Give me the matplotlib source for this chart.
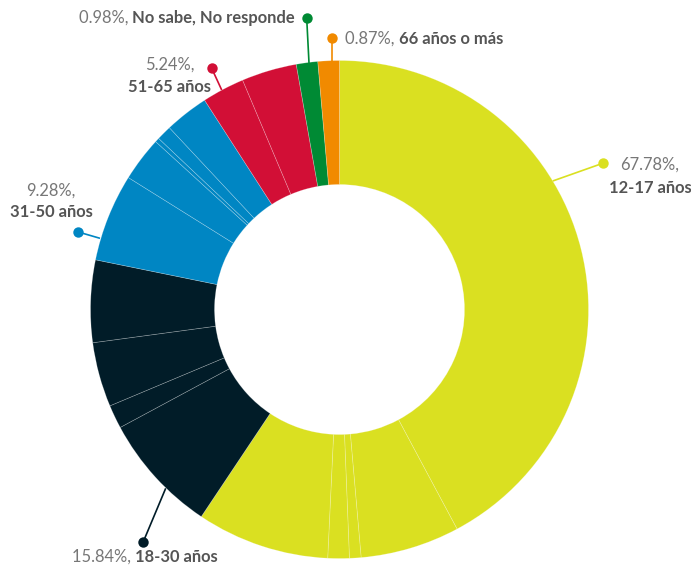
import matplotlib
matplotlib.use('Agg')
import matplotlib.pyplot as plt
import numpy as np

# groups in drawing order, clockwise from 12 o'clock
groups = ['12-17 años', '18-30 años', '31-50 años', '51-65 años', 'No sabe, No responde', '66 años o más']
labelPct = ['67.78%', '15.84%', '9.28%', '5.24%', '0.98%', '0.87%']
colors = ['#dae021', '#011c28', '#0086c3', '#d20f36', '#008a34', '#f18a00']

# sub slices (share of the ring)
subYellow = [42.17, 6.44, 0.75, 1.39, 8.61]
subDark = [7.78, 1.53, 4.19, 5.33]
subBlue = [5.69, 2.89, 0.28, 0.97, 2.86]
subRed = [2.75, 3.58]
subGreen = [1.39]
subOrange = [1.39]
subList = [subYellow, subDark, subBlue, subRed, subGreen, subOrange]

W, H = 691, 571
fig = plt.figure(figsize=[W / 100, H / 100], dpi=100)
ax = fig.add_axes([0, 0, 1, 1])

values = []
sliceColors = []
for i in range(len(subList)):
    for v in subList[i]:
        values.append(v)
        sliceColors.append(colors[i])

cx, cy, R = 339.5, H - 309.5, 249
ax.pie(values, colors=sliceColors, startangle=90, counterclock=False,
       center=(cx, cy), radius=R, frame=True,
       wedgeprops=dict(width=124, edgecolor=(1, 1, 1, 0.28), linewidth=0.5))
ax.set_xlim(0, W)
ax.set_ylim(0, H)
ax.set_aspect('equal')
ax.axis('off')

fontName = 'Lato'
fs = 11.9
pctColor = '#777777'
boldColor = '#555555'

# leader lines: (start on ring, dot) in pixel coords
leaders = [((552.7, 181), (602.7, 163.3)),
           ((165.7, 488.3), (143.3, 541.7)),
           ((100, 238.3), (78.3, 232)),
           ((221.7, 90), (211.7, 68.3)),
           ((309, 63), (306.7, 18.3)),
           ((331.7, 62), (331.7, 38.3))]
for i in range(len(leaders)):
    (x0, y0), (x1, y1) = leaders[i]
    ax.plot([x0, x1], [H - y0, H - y1], color=colors[i], lw=1.2, solid_capstyle='butt', zorder=5)
    ax.plot(x1, H - y1, 'o', color=colors[i], markersize=7.5, markeredgewidth=0, zorder=6)

# two-line labels (centered)
twoLine = {0: (650, 165, 188), 2: (51, 191, 212), 3: (170, 65, 87)}
for i in twoLine:
    x, yA, yB = twoLine[i]
    ax.text(x, H - yA, labelPct[i] + ',', color=pctColor, fontsize=fs, family=fontName,
            ha='center', va='center')
    ax.text(x, H - yB, groups[i], color=boldColor, fontsize=fs, family=fontName,
            fontweight='bold', ha='center', va='center')

fig.canvas.draw()
renderer = fig.canvas.get_renderer()


def inlineLabel(i, x, y, align):
    a = ax.text(0, H - y, labelPct[i] + ', ', color=pctColor, fontsize=fs, family=fontName,
                ha='left', va='center')
    b = ax.text(0, H - y, groups[i], color=boldColor, fontsize=fs, family=fontName,
                fontweight='bold', ha='left', va='center')
    wa = a.get_window_extent(renderer).width
    wb = b.get_window_extent(renderer).width
    if align == 'right':
        x = x - wa - wb
    a.set_x(x)
    b.set_x(x + wa)


inlineLabel(1, 72, 557, 'left')
inlineLabel(4, 295, 18, 'right')
inlineLabel(5, 345, 39, 'left')

fig.savefig('out.png', dpi=100)
